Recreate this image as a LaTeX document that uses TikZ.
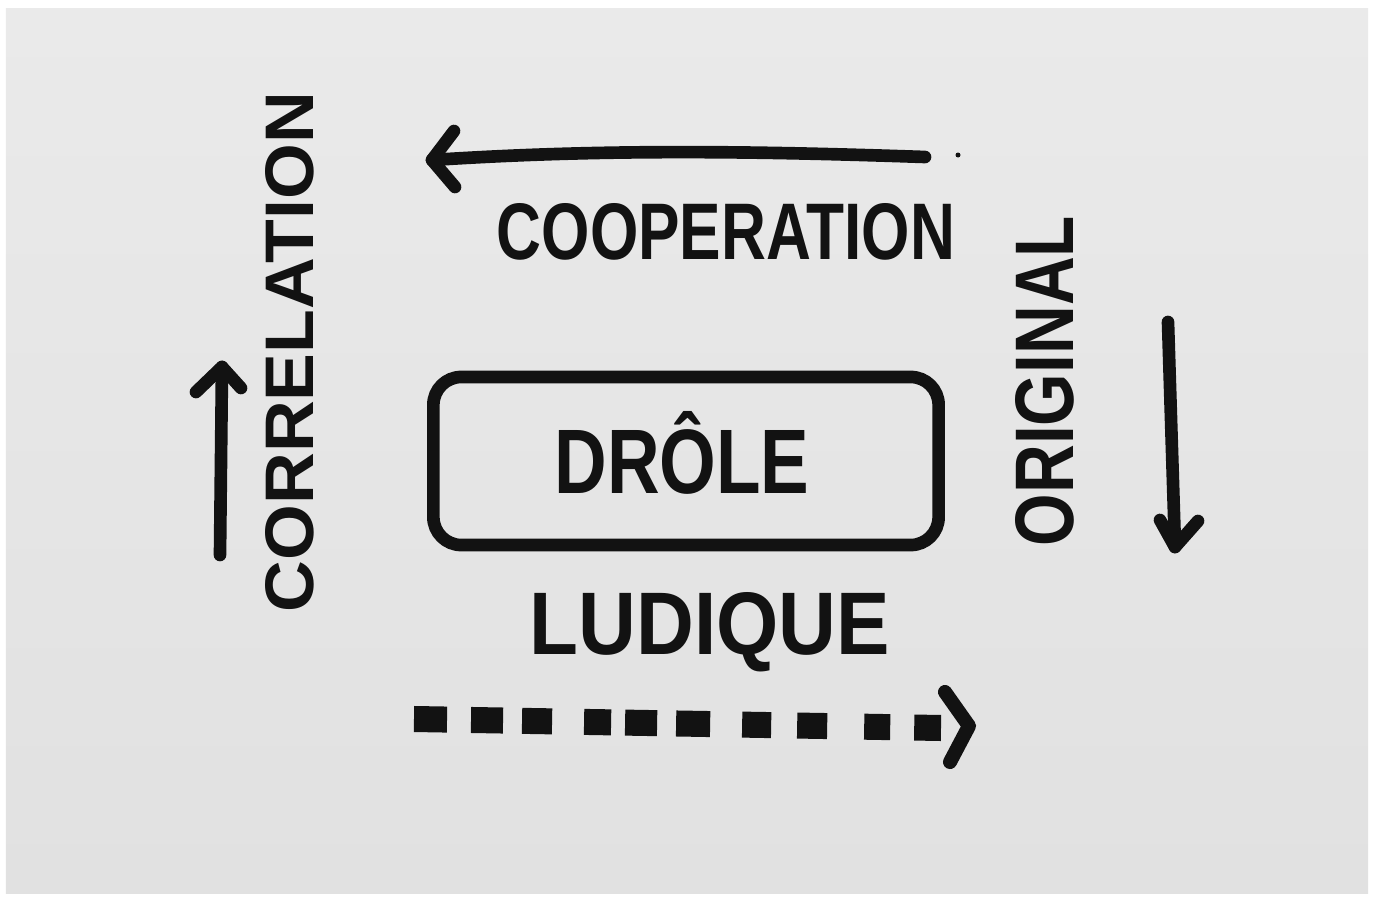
\documentclass[tikz,border=0pt]{standalone}
\usepackage{fontspec}
\setmainfont{Liberation Sans}
\usepackage{graphicx}
\definecolor{inkc}{HTML}{121212}
\definecolor{papertop}{HTML}{EAEAEA}
\definecolor{papermid}{HTML}{F4F4F4}
\definecolor{paperbot}{HTML}{E1E1E1}
\tikzset{
  ink/.style={draw=inkc, line width=3.6pt, line cap=round, line join=round},
  handtext/.style={text=inkc, inner sep=0pt, font=\bfseries},
}
\begin{document}
\begin{tikzpicture}[x=0.01cm,y=-0.01cm]
  \useasboundingbox (0,0) rectangle (1381,897);
  \fill[white] (0,0) rectangle (1381,897);
  \shade[top color=papertop, middle color=papermid, bottom color=paperbot] (6,8) rectangle (1368,893);

  % top arrow (leftwards)
  \coordinate (t1) at (925,157);
  \coordinate (t0) at (432,160);
  \draw[ink] (t1) .. controls (750,151) and (600,149) .. (t0);
  \draw[ink] (454,131) -- (t0) -- (455,187);
  \fill[inkc] (958,155) circle (2.5);
  \node[handtext] (coop) at (726,232) {\resizebox{4.58cm}{0.56cm}{COOPERATION}};

  % left arrow (up) and CORRELATION
  \coordinate (l0) at (220,555);
  \coordinate (l1) at (222,367);
  \draw[ink] (l0) -- (l1);
  \draw[ink] (196,392) -- (l1) -- (241,388);
  \node[handtext, rotate=90] (corr) at (290,352) {\resizebox{5.2cm}{0.48cm}{CORRELATION}};

  % central box
  \node[draw=inkc, line width=3.6pt, rounded corners=0.28cm, minimum width=5.05cm, minimum height=1.68cm, inner sep=0pt] (box) at (686,461) {};
  \node[handtext] (drole) at (682,453) {\resizebox{2.55cm}{0.82cm}{DRÔLE}};

  % ORIGINAL and right arrow (down)
  \node[handtext, rotate=90] (orig) at (1045,381) {\resizebox{3.3cm}{0.58cm}{ORIGINAL}};
  \coordinate (r0) at (1168,322);
  \coordinate (r1) at (1175,547);
  \draw[ink] (r0) -- (r1);
  \draw[ink] (1160,520) -- (r1) -- (1198,521);

  % LUDIQUE
  \node[handtext] (lud) at (710,632) {\resizebox{3.6cm}{0.62cm}{LUDIQUE}};

  % dashed arrow
  \coordinate (d0) at (414,719);
  \coordinate (d1) at (941,728);
  \draw[draw=inkc, line width=7.4pt,
        dash pattern=on 0.33cm off 0.24cm on 0.32cm off 0.19cm on 0.30cm off 0.32cm on 0.27cm off 0.14cm on 0.32cm off 0.19cm on 0.34cm off 0.32cm on 0.29cm off 0.26cm on 0.30cm off 0.37cm on 0.26cm off 0.24cm on 0.27cm off 1cm]
        (d0) -- (d1);
  \coordinate (dh) at (969,726);
  \draw[ink, line width=4pt] (945,692) -- (dh) -- (950,762);
\end{tikzpicture}
\end{document}
